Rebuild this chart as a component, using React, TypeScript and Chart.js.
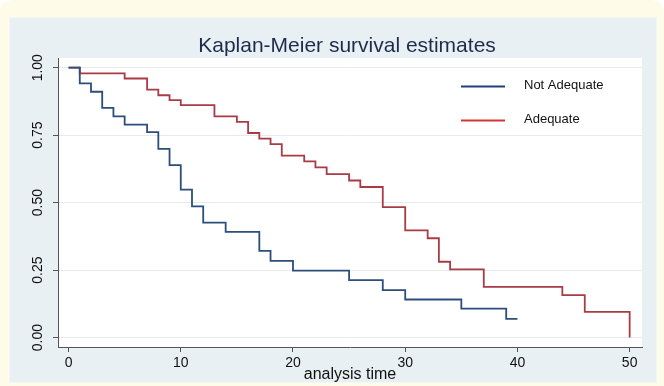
import React, { useEffect, useRef } from "react";
import { Chart, registerables } from "chart.js";

Chart.register(...registerables);

const chartTitle = "Kaplan-Meier survival estimates";
const xAxisTitle = "analysis time";
const xTickValues = [0, 10, 20, 30, 40, 50];
const yTickValues = [0, 0.25, 0.5, 0.75, 1];
const seriesNames = ["Not Adequate", "Adequate"];

const notAdequateTimes = [0, 1, 2, 3, 4, 5, 7, 8, 9, 10, 11, 12, 14, 17, 18, 20, 25, 28, 30, 35, 39, 40];
const notAdequateSurvival = [1, 0.942, 0.911, 0.851, 0.82, 0.789, 0.761, 0.699, 0.639, 0.548, 0.486, 0.426, 0.392, 0.321, 0.284, 0.248, 0.213, 0.176, 0.141, 0.107, 0.069, 0.069];

const adequateTimes = [0, 1, 5, 7, 8, 9, 10, 13, 15, 16, 17, 18, 19, 21, 22, 23, 25, 26, 28, 30, 32, 33, 34, 37, 44, 46, 50];
const adequateSurvival = [1, 0.979, 0.96, 0.919, 0.898, 0.88, 0.861, 0.82, 0.799, 0.758, 0.737, 0.717, 0.674, 0.653, 0.631, 0.606, 0.582, 0.558, 0.483, 0.397, 0.368, 0.281, 0.253, 0.188, 0.157, 0.095, 0];

const FONT = "'Liberation Sans', Arial, Helvetica, sans-serif";
const BLUE = "#2b4e7c";
const RED = "#a93b44";
const LEGEND_BLUE = "#213f78";
const LEGEND_RED = "#cf3838";

const backgroundPlugin = {
  id: "kmBackground",
  beforeDraw(chart: any) {
    const { ctx, width, height, chartArea } = chart;
    ctx.save();
    ctx.fillStyle = "#ffffff";
    ctx.fillRect(0, 0, width, height);
    const r = 14;
    ctx.fillStyle = "#fffbe9";
    ctx.beginPath();
    ctx.moveTo(0, height);
    ctx.lineTo(0, r);
    ctx.quadraticCurveTo(0, 0, r, 0);
    ctx.lineTo(width - r, 0);
    ctx.quadraticCurveTo(width, 0, width, r);
    ctx.lineTo(width, height);
    ctx.closePath();
    ctx.fill();
    ctx.fillStyle = "#e9f0f3";
    ctx.fillRect(9, 17, 648, 366);
    ctx.strokeStyle = "#f4f7f8";
    ctx.lineWidth = 1;
    ctx.strokeRect(9.5, 17.5, 647, 365);
    ctx.fillStyle = "#ffffff";
    ctx.fillRect(chartArea.left, chartArea.top, chartArea.right - chartArea.left, chartArea.bottom - chartArea.top);
    ctx.restore();
  },
  afterDraw(chart: any) {
    const { ctx, chartArea } = chart;
    ctx.save();
    ctx.font = `21px ${FONT}`;
    ctx.fillStyle = "#1d2c4c";
    ctx.textAlign = "center";
    ctx.textBaseline = "alphabetic";
    ctx.fillText(chartTitle, 347, 52);
    const lx0 = chartArea.right - 181;
    const lx1 = chartArea.right - 137;
    const tx = chartArea.right - 118;
    const rows = [
      { name: seriesNames[0], color: LEGEND_BLUE, y: 86.5 },
      { name: seriesNames[1], color: LEGEND_RED, y: 120.5 },
    ];
    ctx.lineWidth = 2;
    ctx.font = `13px ${FONT}`;
    ctx.fillStyle = "#111111";
    ctx.textAlign = "left";
    ctx.textBaseline = "middle";
    rows.forEach((row) => {
      ctx.strokeStyle = row.color;
      ctx.beginPath();
      ctx.moveTo(lx0, row.y);
      ctx.lineTo(lx1, row.y);
      ctx.stroke();
      ctx.fillText(row.name, tx, row.y - 1.5);
    });
    ctx.restore();
  },
};

export default function App() {
  const canvasRef = useRef<HTMLCanvasElement | null>(null);

  useEffect(() => {
    const canvas = canvasRef.current;
    if (!canvas) return;
    const chart = new Chart(canvas, {
      type: "line",
      data: {
        datasets: [
          {
            label: seriesNames[0],
            data: notAdequateTimes.map((t, i) => ({ x: t, y: notAdequateSurvival[i] })),
            borderColor: BLUE,
            borderWidth: 1.8,
            stepped: "before",
            pointRadius: 0,
            fill: false,
          },
          {
            label: seriesNames[1],
            data: adequateTimes.map((t, i) => ({ x: t, y: adequateSurvival[i] })),
            borderColor: RED,
            borderWidth: 1.8,
            stepped: "before",
            pointRadius: 0,
            fill: false,
          },
        ],
      },
      options: {
        responsive: false,
        animation: false,
        events: [],
        layout: { padding: { left: 0, top: 58, right: 22, bottom: 0 } },
        plugins: {
          legend: { display: false },
          title: { display: false },
          tooltip: { enabled: false },
        },
        scales: {
          x: {
            type: "linear",
            min: -0.94,
            max: 51.1,
            afterBuildTicks: (scale: any) => {
              scale.ticks = xTickValues.map((v) => ({ value: v }));
            },
            afterFit: (scale: any) => {
              scale.height = 39;
            },
            grid: {
              display: true,
              drawOnChartArea: false,
              drawTicks: true,
              tickLength: 5,
              tickColor: "#555555",
            },
            border: { display: true, color: "#555555", width: 1 },
            ticks: {
              color: "#111111",
              font: { family: FONT, size: 14 },
              padding: 3,
              maxRotation: 0,
              minRotation: 0,
              callback: (v: any) => String(v),
            },
            title: {
              display: true,
              text: xAxisTitle,
              color: "#111111",
              font: { family: FONT, size: 16 },
              padding: { top: 0, bottom: 2 },
            },
          },
          y: {
            type: "linear",
            min: -0.035,
            max: 1.036,
            afterBuildTicks: (scale: any) => {
              scale.ticks = yTickValues.map((v) => ({ value: v }));
            },
            afterFit: (scale: any) => {
              scale.width = 58;
            },
            grid: {
              display: true,
              drawOnChartArea: true,
              color: "#e6eaed",
              lineWidth: 1,
              drawTicks: true,
              tickLength: 5,
              tickColor: "#555555",
            },
            border: { display: true, color: "#555555", width: 1 },
            ticks: {
              color: "#111111",
              font: { family: FONT, size: 14 },
              padding: 1,
              minRotation: 90,
              maxRotation: 90,
              crossAlign: "center",
              callback: (v: any) => Number(v).toFixed(2),
            },
          },
        },
      },
      plugins: [backgroundPlugin],
    } as any);
    return () => chart.destroy();
  }, []);

  return (
    <div style={{ position: "absolute", left: 0, top: 0, width: 664, height: 386 }}>
      <canvas ref={canvasRef} width={664} height={386} style={{ display: "block", width: 664, height: 386 }} />
    </div>
  );
}
